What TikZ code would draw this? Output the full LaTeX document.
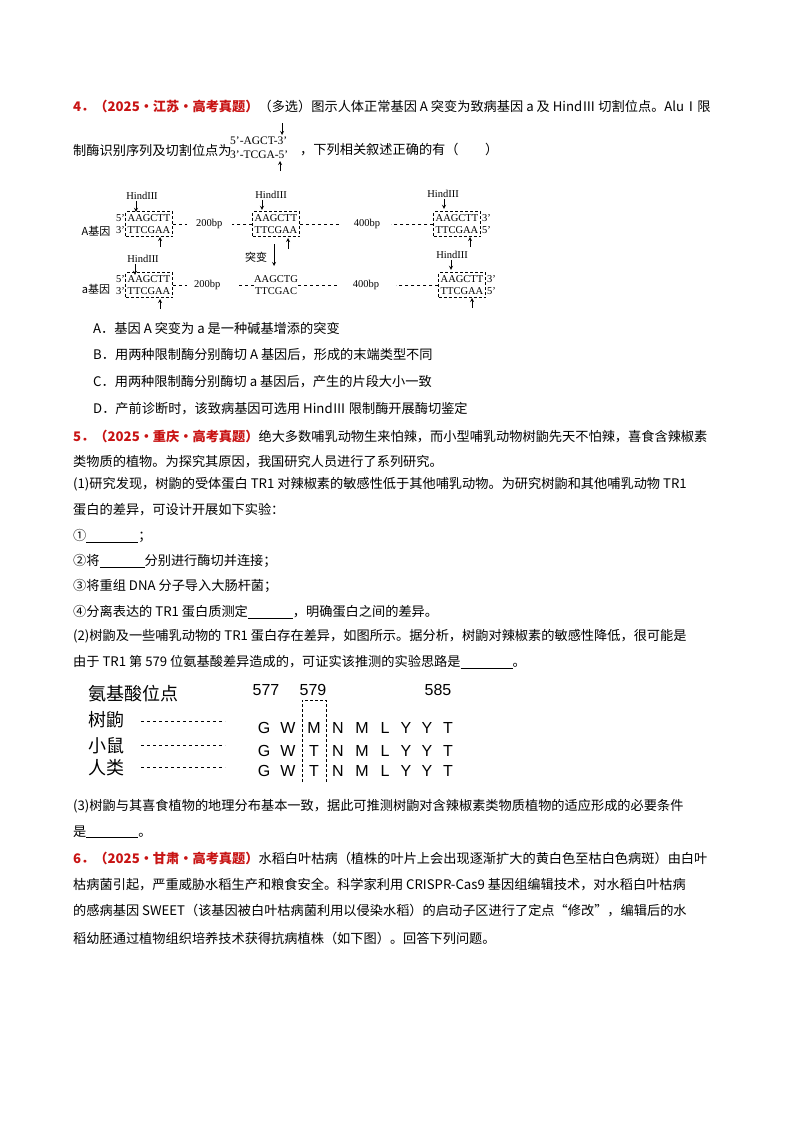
\documentclass[tikz,border=0pt]{standalone}
\usepackage{fontspec}
\setmainfont{Noto Sans CJK SC}
\newfontfamily\ser{Liberation Serif}
\newfontfamily\sns{Liberation Sans}
\definecolor{qred}{RGB}{200,20,20}
\begin{document}
\begin{tikzpicture}[x=1pt,y=-1pt,
 tx/.style={anchor=west,inner sep=0pt,font=\fontsize{13.2}{13.2}\selectfont},
 dn/.style={inner sep=0pt,font=\ser\fontsize{10.5}{10.5}\selectfont},
 sbox/.style={draw,densely dashed,line width=0.5pt,minimum width=47pt,minimum height=25pt,inner sep=0pt,align=center,font=\ser\fontsize{10.5}{11.5}\selectfont},
 arr/.style={-stealth,line width=0.8pt},
 aa/.style={inner sep=0pt,font=\sns\fontsize{16}{16}\selectfont},
 lab/.style={anchor=west,inner sep=0pt,font=\fontsize{18}{18}\selectfont}]
\useasboundingbox (0,0) rectangle (800,1132);
\fill[white] (0,0) rectangle (800,1132);
\newcommand{\bl}[1]{\underline{\makebox[#1]{}}}
% Q4
\node[tx] (l1) at (73,106) {{\color{qred}\bfseries 4．（2025·江苏·高考真题）}（多选）图示人体正常基因 A 突变为致病基因 a 及 HindⅢ 切割位点。AluⅠ限};
\node[tx] (l2) at (73,150) {制酶识别序列及切割位点为};
\node[dn,anchor=west,font=\ser\fontsize{11.5}{11.5}\selectfont] (s1) at (230,141) {5’-AGCT-3’};
\node[dn,anchor=west,font=\ser\fontsize{11.5}{11.5}\selectfont] (s2) at (230,155) {3’-TCGA-5’};
\coordinate (c1) at (282,123); \coordinate (c2) at (282,135);
\draw[arr] (c1) -- (c2);
\coordinate (c3) at (280,171); \coordinate (c4) at (280,161);
\draw[arr] (c3) -- (c4);
\node[tx] (l2b) at (300,150) {，下列相关叙述正确的有（　　）};
% diagram row A
\node[dn] (ha1) at (142,196) {HindIII};
\node[dn] (ha2) at (271,195) {HindIII};
\node[dn] (ha3) at (443,194) {HindIII};
\node[sbox] (a1) at (149,224) {AAGCTT\\TTCGAA};
\node[sbox] (a2) at (276,224) {AAGCTT\\TTCGAA};
\node[sbox] (a3) at (457,224) {AAGCTT\\TTCGAA};
\node[dn,anchor=east,align=left] (p1) at (125,224) {5’\\[1pt]3’};
\node[dn,anchor=west,align=left] (p2) at (482,224) {3’\\[1pt]5’};
\node[inner sep=0pt,font=\fontsize{11}{11}\selectfont] (ga) at (96,231) {A基因};
\draw[dashed] (a1.east) -- ++(14,0);
\node[dn,anchor=west] (b200) at (196,224) {200bp};
\draw[dashed] (a2.west) -- ++(-20,0);
\draw[dashed] (a2.east) -- ++(40,0);
\node[dn] (b400) at (367,224) {400bp};
\draw[dashed] (a3.west) -- ++(-42,0);
\draw[arr] (ha1.south) ++(-6,1) -- ++(0,11);
\draw[arr] (ha2.south) ++(-9,1) -- ++(0,10);
\draw[arr] (ha3.south) ++(1,1) -- ++(0,10);
\draw[arr] (160,247) -- (160,237);
\draw[arr] (288,249) -- (288,238);
\draw[arr] (470,247) -- (470,237);
% mutation
\draw[arr] (274,244) -- (274,266);
\node[inner sep=0pt,font=\fontsize{11}{11}\selectfont] (mu) at (256,257) {突变};
% row a
\node[dn] (hb1) at (143,259) {HindIII};
\node[dn] (hb3) at (452,255) {HindIII};
\node[sbox] (b1) at (149,285) {AAGCTT\\TTCGAA};
\node[dn,align=center,font=\ser\fontsize{10.5}{11.5}\selectfont] (b2) at (276,285) {AAGCTG\\TTCGAC};
\node[sbox] (b3) at (462,285) {AAGCTT\\TTCGAA};
\node[dn,anchor=east,align=left] (q1) at (125,285) {5’\\[1pt]3’};
\node[dn,anchor=west,align=left] (q2) at (487,285) {3’\\[1pt]5’};
\node[inner sep=0pt,font=\fontsize{11}{11}\selectfont] (gb) at (96,289) {a基因};
\draw[dashed] (b1.east) -- ++(14,0);
\node[dn,anchor=west] (c200) at (194,285) {200bp};
\draw[dashed] (b2.west) -- ++(-16,0);
\draw[dashed] (b2.east) -- ++(40,0);
\node[dn] (c400) at (366,285) {400bp};
\draw[dashed] (b3.west) -- ++(-42,0);
\draw[arr] (hb1.south) ++(-8,1) -- ++(0,11);
\draw[arr] (hb3.south) ++(-1,1) -- ++(0,10);
\draw[arr] (160,309) -- (160,299);
\draw[arr] (472,308) -- (472,298);
% options
\node[tx] (oA) at (93,328) {A．基因 A 突变为 a 是一种碱基增添的突变};
\node[tx] (oB) at (93,355) {B．用两种限制酶分别酶切 A 基因后，形成的末端类型不同};
\node[tx] (oC) at (93,382) {C．用两种限制酶分别酶切 a 基因后，产生的片段大小一致};
\node[tx] (oD) at (93,409) {D．产前诊断时，该致病基因可选用 HindⅢ 限制酶开展酶切鉴定};
% Q5
\node[tx] (m1) at (73,436) {{\color{qred}\bfseries 5．（2025·重庆·高考真题）}绝大多数哺乳动物生来怕辣，而小型哺乳动物树鼩先天不怕辣，喜食含辣椒素};
\node[tx] (m2) at (73,462) {类物质的植物。为探究其原因，我国研究人员进行了系列研究。};
\node[tx] (m3) at (73,484) {(1)研究发现，树鼩的受体蛋白 TR1 对辣椒素的敏感性低于其他哺乳动物。为研究树鼩和其他哺乳动物 TR1};
\node[tx] (m4) at (73,510) {蛋白的差异，可设计开展如下实验：};
\node[tx] (m5) at (73,536) {①\bl{52pt}；};
\node[tx] (m6) at (73,561) {②将\bl{45pt}分别进行酶切并连接；};
\node[tx] (m7) at (73,586) {③将重组 DNA 分子导入大肠杆菌；};
\node[tx] (m8) at (73,612) {④分离表达的 TR1 蛋白质测定\bl{45pt}，明确蛋白之间的差异。};
\node[tx] (m9) at (73,636) {(2)树鼩及一些哺乳动物的 TR1 蛋白存在差异，如图所示。据分析，树鼩对辣椒素的敏感性降低，很可能是};
\node[tx] (m10) at (73,662) {由于 TR1 第 579 位氨基酸差异造成的，可证实该推测的实验思路是\bl{52pt}。};
% table
\node[lab] (h0) at (88,694) {氨基酸位点};
\node[lab] (r1) at (88,720) {树鼩};
\node[lab] (r2) at (88,746) {小鼠};
\node[lab] (r3) at (88,768) {人类};
\foreach \y/\n in {721/1,745/2,767/3}{\draw[dashed,line width=0.6pt] (141,\y) coordinate (ds\n) -- (225,\y) coordinate (de\n);}
\node[aa] (n577) at (266,690) {577};
\node[aa] (n579) at (313,690) {579};
\node[aa] (n585) at (438,690) {585};
\newcommand{\aarow}[2]{%
 \node[aa] at (264,#1) {G}; \node[aa] at (288,#1) {W}; \node[aa] at (314,#1) {#2};
 \node[aa] at (338,#1) {N}; \node[aa] at (362,#1) {M}; \node[aa] at (385,#1) {L};
 \node[aa] at (406,#1) {Y}; \node[aa] at (427,#1) {Y}; \node[aa] at (448,#1) {T};}
\aarow{728}{M}
\aarow{751}{T}
\aarow{771}{T}
\draw[densely dashed,line width=0.8pt] (302,782) -- (302,700) -- (326,700) -- (326,782);
% Q5 (3)
\node[tx] (k1) at (73,806) {(3)树鼩与其喜食植物的地理分布基本一致，据此可推测树鼩对含辣椒素类物质植物的适应形成的必要条件};
\node[tx] (k2) at (73,832) {是\bl{52pt}。};
% Q6
\node[tx] (z1) at (73,858) {{\color{qred}\bfseries 6．（2025·甘肃·高考真题）}水稻白叶枯病（植株的叶片上会出现逐渐扩大的黄白色至枯白色病斑）由白叶};
\node[tx] (z2) at (73,885) {枯病菌引起，严重威胁水稻生产和粮食安全。科学家利用 CRISPR-Cas9 基因组编辑技术，对水稻白叶枯病};
\node[tx] (z3) at (73,911) {的感病基因 SWEET（该基因被白叶枯病菌利用以侵染水稻）的启动子区进行了定点“修改”，编辑后的水};
\node[tx] (z4) at (73,938) {稻幼胚通过植物组织培养技术获得抗病植株（如下图）。回答下列问题。};
\end{tikzpicture}
\end{document}
